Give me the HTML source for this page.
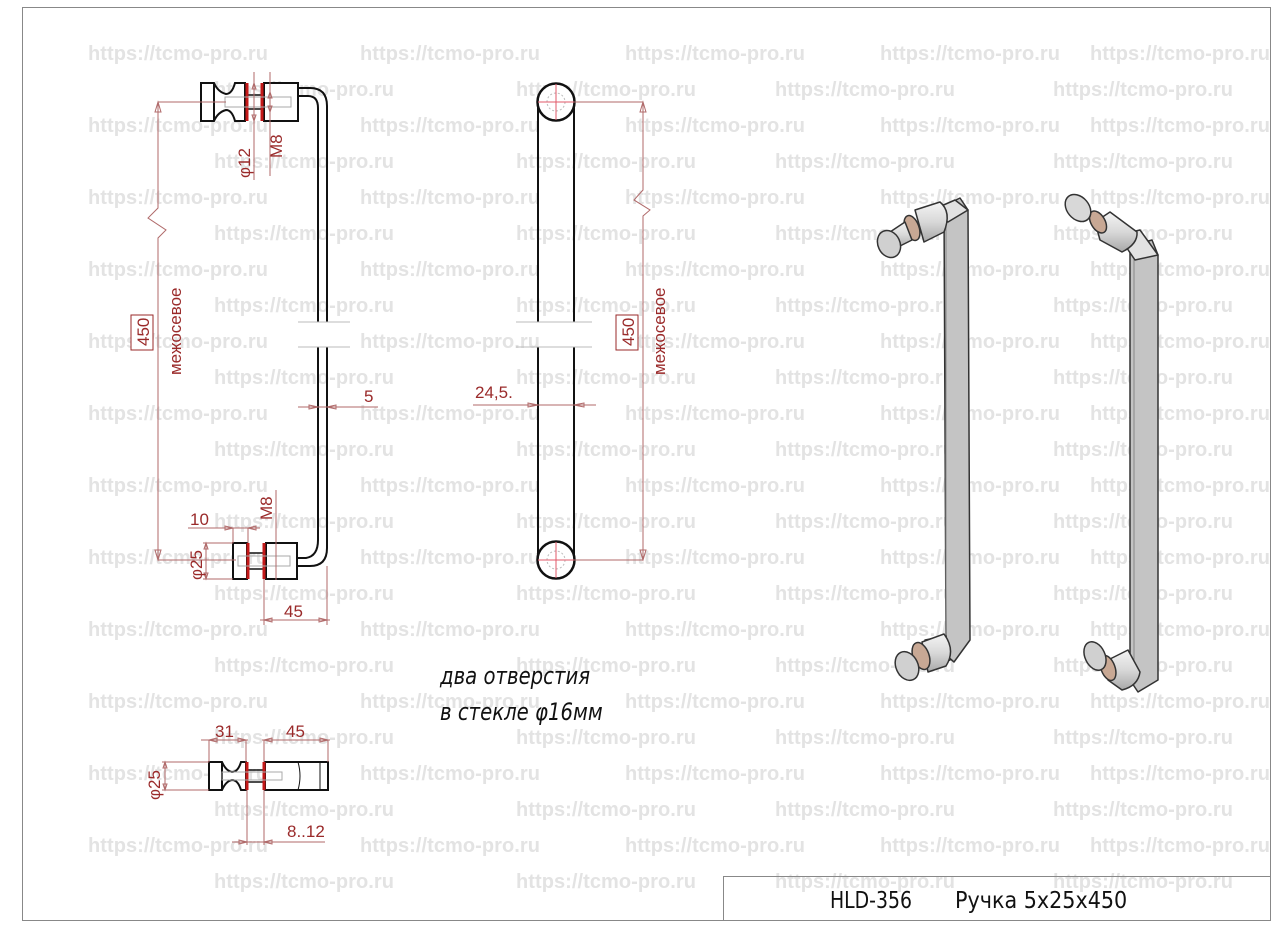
<!DOCTYPE html>
<html><head><meta charset="utf-8"><style>
html,body{margin:0;padding:0;background:#fff;}
svg{display:block;}
.wm{font-family:"Liberation Sans",sans-serif;font-weight:bold;font-size:20px;fill:#e3e3e3;}
.d{stroke:#b06a6a;stroke-width:1;fill:none;}
.dt{font-family:"Liberation Sans","DejaVu Sans",sans-serif;fill:#9a2a2a;font-size:17px;}
.k{stroke:#111;stroke-width:2;fill:#fff;}
.r{stroke:#c41818;stroke-width:3;fill:none;}
.tx{font-family:"DejaVu Sans","Liberation Sans",sans-serif;fill:#111;}
</style></head><body>
<svg width="1276" height="926" viewBox="0 0 1276 926" xmlns="http://www.w3.org/2000/svg">
<defs>
<linearGradient id="g1" x1="0" y1="0" x2="0" y2="1"><stop offset="0" stop-color="#f4f4f4"/><stop offset="0.5" stop-color="#d8d8d8"/><stop offset="1" stop-color="#a8a8a8"/></linearGradient>
</defs>
<rect x="0" y="0" width="1276" height="926" fill="#fff"/>
<g class="wm">
<g id="ra">
<text x="88" y="60" textLength="180">https://tcmo-pro.ru</text><text x="360" y="60" textLength="180">https://tcmo-pro.ru</text><text x="625" y="60" textLength="180">https://tcmo-pro.ru</text><text x="880" y="60" textLength="180">https://tcmo-pro.ru</text><text x="1090" y="60" textLength="180">https://tcmo-pro.ru</text>
</g>
<use href="#ra" y="72"/><use href="#ra" y="144"/><use href="#ra" y="216"/><use href="#ra" y="288"/><use href="#ra" y="360"/><use href="#ra" y="432"/><use href="#ra" y="504"/><use href="#ra" y="576"/><use href="#ra" y="648"/><use href="#ra" y="720"/><use href="#ra" y="792"/>
<g id="rb">
<text x="214" y="96" textLength="180">https://tcmo-pro.ru</text><text x="516" y="96" textLength="180">https://tcmo-pro.ru</text><text x="775" y="96" textLength="180">https://tcmo-pro.ru</text><text x="1053" y="96" textLength="180">https://tcmo-pro.ru</text>
</g>
<use href="#rb" y="72"/><use href="#rb" y="144"/><use href="#rb" y="216"/><use href="#rb" y="288"/><use href="#rb" y="360"/><use href="#rb" y="432"/><use href="#rb" y="504"/><use href="#rb" y="576"/><use href="#rb" y="648"/><use href="#rb" y="720"/><use href="#rb" y="792"/>
</g>
<rect x="22.5" y="7.5" width="1248" height="913" fill="none" stroke="#888" stroke-width="1"/>
<rect x="723.5" y="876.5" width="547" height="44" fill="none" stroke="#888" stroke-width="1"/>
<text x="830" y="908" class="tx" font-size="23" transform="translate(830 0) scale(0.82 1) translate(-830 0)">HLD-356</text>
<text x="955" y="908" class="tx" font-size="23" transform="translate(955 0) scale(0.9 1) translate(-955 0)">Ручка  5x25x450</text>

<g>
<path d="M298 96 H308 Q318 96 318 108 V322 M318 347 V540 Q318 556 306 558 H297" fill="none" stroke="#111" stroke-width="2"/>
<path d="M298 88 H310 Q327 88 327 106 V322 M327 347 V548 Q327 566 310 566 H297" fill="none" stroke="#111" stroke-width="2"/>
<path d="M298 322 H350 M298 347 H350" stroke="#bbb" stroke-width="1"/>
<path d="M201 83 H214 Q218 92 226 94 Q232 94 235 83 H245 V121 H235 Q232 110 226 110 Q218 112 214 121 H201 Z" class="k"/>
<line x1="214" y1="83" x2="214" y2="121" stroke="#111" stroke-width="2"/>
<rect x="264" y="83" width="34" height="38" class="k"/>
<line x1="245" y1="95" x2="264" y2="95" stroke="#111" stroke-width="1.5"/><line x1="245" y1="109" x2="264" y2="109" stroke="#111" stroke-width="1.5"/>
<line x1="247" y1="83" x2="247" y2="121" class="r"/><line x1="262" y1="83" x2="262" y2="121" class="r"/>
<rect x="225" y="97" width="66" height="10" fill="none" stroke="#aaa" stroke-width="1"/>
<rect x="233" y="543" width="14" height="36" class="k"/>
<rect x="266" y="543" width="31" height="36" class="k"/>
<line x1="247" y1="553" x2="266" y2="553" stroke="#111" stroke-width="1.5"/><line x1="247" y1="569" x2="266" y2="569" stroke="#111" stroke-width="1.5"/>
<line x1="248" y1="543" x2="248" y2="579" class="r"/><line x1="264" y1="543" x2="264" y2="579" class="r"/>
<rect x="238" y="556" width="52" height="10" fill="none" stroke="#aaa" stroke-width="1"/>
<path class="d" d="M158 102 H226 M158 560 H236 M158 102 V208 L148 218 L166 230 L158 238 V560"/>
<path class="d" d="M158 102 l-3 10 h6 z M158 560 l-3 -10 h6 z"/>
<rect x="131" y="315" width="22" height="35" fill="#fff" stroke="#9a2a2a" stroke-width="1"/>
<text class="dt" transform="translate(149 346) rotate(-90)" font-size="16">450</text>
<text class="dt" transform="translate(181 375) rotate(-90)" font-size="16">межосевое</text>
<path class="d" d="M254 72 V180 M270 72 V176 M254 83 l-2 6 h4 z M254 121 l-2 -6 h4 z M270 92 l-2 6 h4z M270 112 l-2 -6 h4z"/>
<text class="dt" transform="translate(250 178) rotate(-90)" font-size="16">φ12</text>
<text class="dt" transform="translate(282 158) rotate(-90)" font-size="16">M8</text>
<path class="d" d="M298 407 H378 M318 407 l-9 -2 v4 z M327 407 l9 -2 v4z"/>
<text class="dt" x="364" y="402">5</text>
<path class="d" d="M188 528 H260 M233 528 l-8 -2 v4z M248 528 l8 -2 v4z M233 528 V543 M248 528 V543"/>
<text class="dt" x="190" y="525">10</text>
<path class="d" d="M276 490 V580"/>
<text class="dt" transform="translate(272 520) rotate(-90)" font-size="16">M8</text>
<path class="d" d="M203 543 H233 M203 579 H233 M206 543 V579 M206 543 l-2 6 h4z M206 579 l-2 -6 h4z"/>
<text class="dt" transform="translate(202 580) rotate(-90)" font-size="16">φ25</text>
<path class="d" d="M264 579 V625 M327 566 V625 M260 620 H330 M264 620 l8 -2 v4z M327 620 l-8 -2 v4z"/>
<text class="dt" x="284" y="617">45</text>
</g>

<g>
<line x1="538" y1="102" x2="538" y2="322" stroke="#111" stroke-width="2"/>
<line x1="574" y1="102" x2="574" y2="322" stroke="#111" stroke-width="2"/>
<line x1="538" y1="347" x2="538" y2="560" stroke="#111" stroke-width="2"/>
<line x1="574" y1="347" x2="574" y2="560" stroke="#111" stroke-width="2"/>
<circle cx="556" cy="102" r="18.5" fill="#fff" stroke="#111" stroke-width="2.5"/>
<circle cx="556" cy="560" r="18.5" fill="#fff" stroke="#111" stroke-width="2.5"/>
<circle cx="556" cy="102" r="9" fill="none" stroke="#bbb" stroke-dasharray="2 2"/>
<circle cx="556" cy="560" r="9" fill="none" stroke="#bbb" stroke-dasharray="2 2"/>
<path d="M538 102 H574 M556 84 V120 M538 560 H574 M556 542 V578" stroke="#e05a6a" stroke-width="1"/>
<path d="M516 322 H592 M516 347 H592" stroke="#bbb" stroke-width="1"/>
<path class="d" d="M574 102 H643 M574 560 H643 M643 102 V190 L634 200 L650 210 L643 216 V560 M643 102 l-3 10 h6z M643 560 l-3 -10 h6z"/>
<rect x="616" y="315" width="22" height="35" fill="#fff" stroke="#9a2a2a" stroke-width="1"/>
<text class="dt" transform="translate(634 346) rotate(-90)" font-size="16">450</text>
<text class="dt" transform="translate(665 375) rotate(-90)" font-size="16">межосевое</text>
<path class="d" d="M473 405 H596 M538 405 l-10 -2 v4z M574 405 l10 -2 v4z"/>
<text class="dt" x="475" y="398" font-size="18">24,5.</text>
</g>

<text x="440" y="684" class="tx" font-size="24" font-style="italic" transform="translate(440 0) scale(0.82 1) translate(-440 0)">два отверстия</text>
<text x="440" y="720" class="tx" font-size="24" font-style="italic" transform="translate(440 0) scale(0.82 1) translate(-440 0)">в стекле φ16мм</text>

<g>
<path d="M209 762 H222 Q226 771 232 772 Q238 772 241 762 H246 V790 H241 Q238 780 232 780 Q226 781 222 790 H209 Z" class="k"/>
<line x1="222" y1="762" x2="222" y2="790" stroke="#111" stroke-width="2"/>
<rect x="265" y="762" width="63" height="28" class="k"/>
<path d="M298 762 Q302 776 298 790 M320 762 V790" stroke="#111" stroke-width="1" fill="none"/>
<line x1="246" y1="770" x2="265" y2="770" stroke="#111" stroke-width="1.5"/><line x1="246" y1="782" x2="265" y2="782" stroke="#111" stroke-width="1.5"/>
<line x1="247" y1="762" x2="247" y2="790" class="r"/><line x1="264" y1="762" x2="264" y2="790" class="r"/>
<rect x="222" y="772" width="60" height="8" fill="none" stroke="#aaa" stroke-width="1"/>
<path class="d" d="M201 740 H248 M209 740 V762 M246 740 V762 M209 740 l8 -2 v4z M246 740 l-8 -2 v4z"/>
<text class="dt" x="215" y="737">31</text>
<path class="d" d="M262 740 H330 M264 740 V762 M328 740 V762 M264 740 l8 -2 v4z M328 740 l-8 -2 v4z"/>
<text class="dt" x="286" y="737">45</text>
<path class="d" d="M162 762 H209 M162 790 H209 M165 762 V790 M165 762 l-2 6 h4z M165 790 l-2 -6 h4z"/>
<text class="dt" transform="translate(160 800) rotate(-90)" font-size="16">φ25</text>
<path class="d" d="M247 790 V845 M264 790 V845 M232 842 H325 M247 842 l-8 -2 v4z M264 842 l8 -2 v4z"/>
<text class="dt" x="287" y="837">8..12</text>
</g>

<g stroke="#333" stroke-width="1.5" stroke-linejoin="round">
<path d="M944 206 L960 198 L968 210 L970 640 L954 662 L940 650 L946 640 Z" fill="#c4c4c4"/>
<path d="M946 218 V640" stroke="#888" fill="none" stroke-width="1"/>
<path d="M932 210 L955 200 L968 210 L948 222 Z" fill="#e2e2e2"/>
<path d="M925 640 L946 636 L950 660 L930 668 Z" fill="#e2e2e2"/>
<path d="M915 210 L940 202 Q952 212 944 232 L924 242 Z" fill="url(#g1)"/>
<ellipse cx="912" cy="228" rx="7" ry="13" fill="#c8a894" transform="rotate(-20 912 228)"/>
<path d="M890 232 L905 222 L912 240 L896 248 Z" fill="url(#g1)"/>
<ellipse cx="889" cy="244" rx="11" ry="14" fill="#d0d0d0" transform="rotate(-25 889 244)"/>
<path d="M922 642 L944 634 Q956 650 946 666 L928 672 Z" fill="url(#g1)"/>
<ellipse cx="921" cy="656" rx="8" ry="14" fill="#c8a894" transform="rotate(-20 921 656)"/>
<ellipse cx="907" cy="666" rx="11" ry="15" fill="#d0d0d0" transform="rotate(-25 907 666)"/>
</g>

<g stroke="#333" stroke-width="1.5" stroke-linejoin="round">
<path d="M1130 246 L1152 240 L1158 255 L1158 680 L1138 692 L1130 680 Z" fill="#c4c4c4"/>
<path d="M1134 255 V680" stroke="#888" fill="none" stroke-width="1"/>
<path d="M1118 235 L1140 230 L1158 255 L1135 260 Z" fill="#e2e2e2"/>
<path d="M1095 222 L1110 212 L1137 232 Q1138 244 1122 252 L1100 240 Z" fill="url(#g1)"/>
<ellipse cx="1098" cy="222" rx="7" ry="12" fill="#c8a894" transform="rotate(-30 1098 222)"/>
<ellipse cx="1078" cy="208" rx="11" ry="15" fill="#d8d8d8" transform="rotate(-40 1078 208)"/>
<path d="M1108 660 L1128 650 L1140 672 Q1138 686 1122 690 L1108 680 Z" fill="url(#g1)"/>
<ellipse cx="1108" cy="668" rx="7" ry="13" fill="#c8a894" transform="rotate(-20 1108 668)"/>
<ellipse cx="1095" cy="656" rx="10" ry="15" fill="#d0d0d0" transform="rotate(-25 1095 656)"/>
</g>
</svg>
</body></html>
